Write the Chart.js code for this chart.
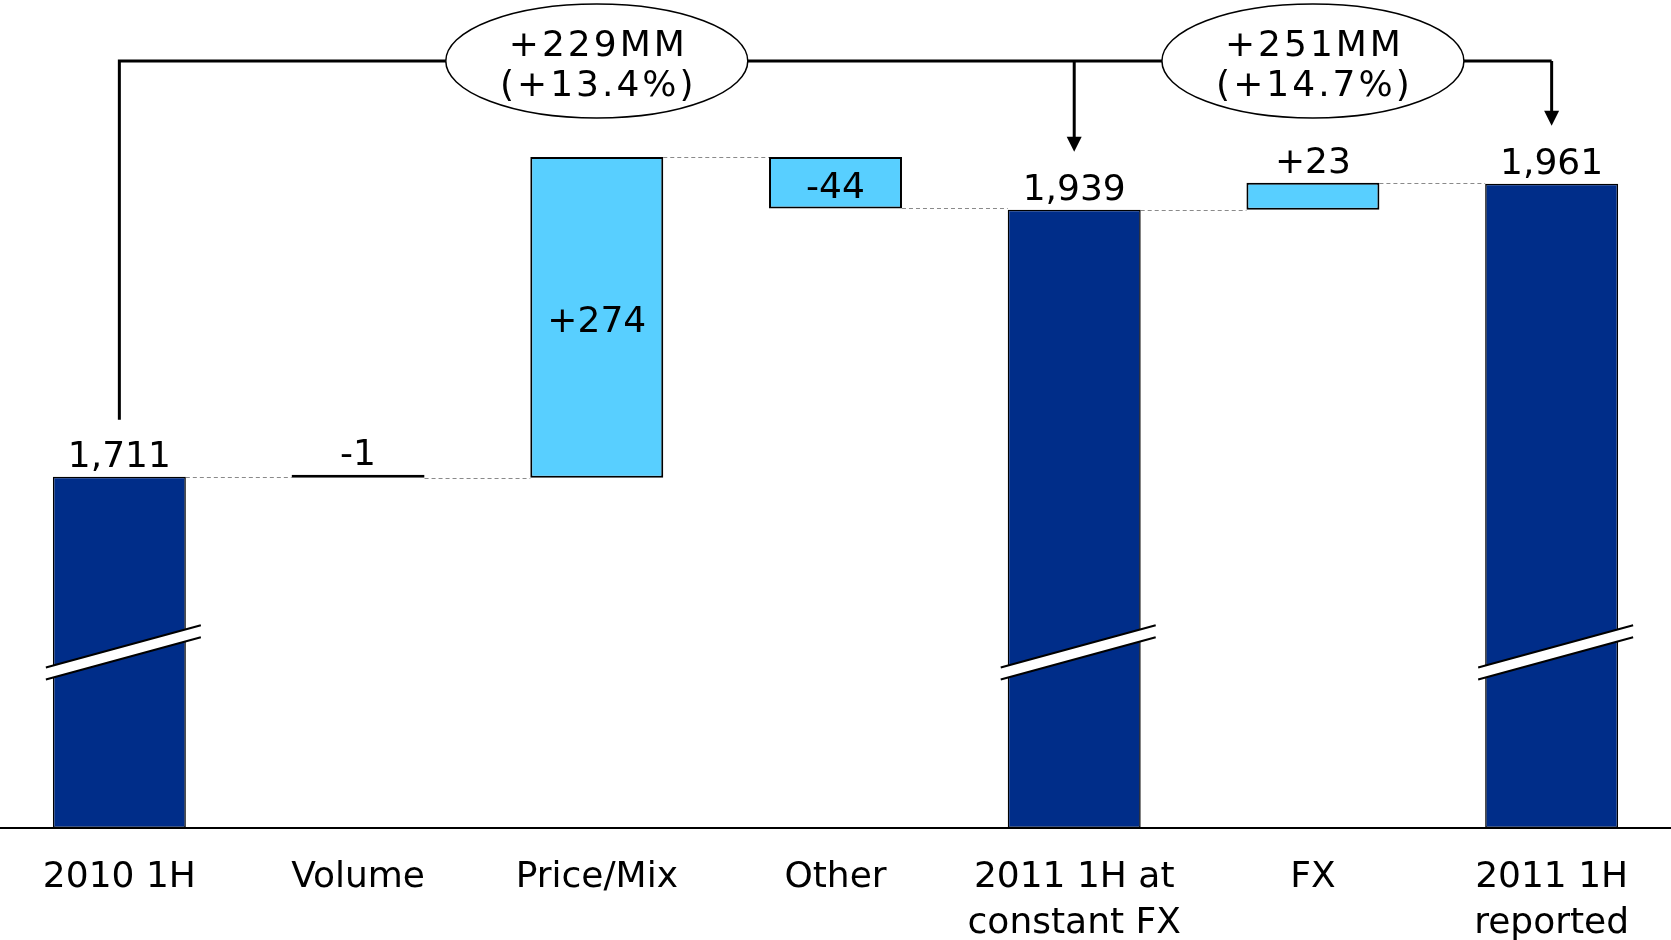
<!DOCTYPE html>
<html>
<head>
<meta charset="utf-8">
<title>Net sales bridge 2010 1H to 2011 1H</title>
<script src="https://cdn.jsdelivr.net/npm/chart.js@4.4.1/dist/chart.umd.min.js"></script>
<style>
  html, body { margin: 0; padding: 0; background: #ffffff; }
  #wrap { width: 1671px; height: 940px; position: relative; }
</style>
</head>
<body>
<div id="wrap"><canvas id="chart"></canvas></div>
<script>
// ---- data ----
const categories = [
  ['2010 1H'], ['Volume'], ['Price/Mix'], ['Other'],
  ['2011 1H at', 'constant FX'], ['FX'], ['2011 1H', 'reported']
];
// totals are absolute levels, the others are changes to the running level
const values = [1711, -1, 274, -44, 1939, 23, 1961];
const isTotal = [true, false, false, false, true, false, true];
const valueLabels = ['1,711', '-1', '+274', '-44', '1,939', '+23', '1,961'];

// growth callouts: bracket starts at `from`, arrows point to each `to`, bubble sits over `over`
const growthFrom = 0;
const growthTo = [4, 6];
const growthOver = [2, 5];
const growthText = [['+229MM', '(+13.4%)'], ['+251MM', '(+14.7%)']];

// visible value window (the total bars are drawn with an axis break)
const axisMin = 1411;
const axisMax = 2118;
const breakValue = 1560;

// ---- floating ranges for the waterfall ----
let running = 0;
const ranges = values.map((v, i) => {
  if (isTotal[i]) { running = v; return [axisMin, v]; }
  const start = running;
  running += v;
  return [Math.min(start, running), Math.max(start, running)];
});
const endLevels = [];
(function () {
  let lvl = 0;
  values.forEach((v, i) => { lvl = isTotal[i] ? v : lvl + v; endLevels[i] = lvl; });
})();

const FONT = '"DejaVu Sans", Verdana, sans-serif';
const DARK = '#002D89';
const LIGHT = '#58CFFF';

const decorPlugin = {
  id: 'waterfallDecor',
  beforeDatasetsDraw(chart) {
    // dashed connectors between neighbouring bars
    const ctx = chart.ctx;
    const meta = chart.getDatasetMeta(0);
    const y = chart.scales.y;
    ctx.save();
    ctx.strokeStyle = '#8a8a8a';
    ctx.lineWidth = 1;
    ctx.setLineDash([4, 3]);
    for (let i = 0; i < meta.data.length - 1; i++) {
      const a = meta.data[i], b = meta.data[i + 1];
      const py = Math.round(y.getPixelForValue(endLevels[i])) + 0.5;
      ctx.beginPath();
      ctx.moveTo(a.x + a.width / 2, py);
      ctx.lineTo(b.x - b.width / 2, py);
      ctx.stroke();
    }
    ctx.restore();
  },
  afterDatasetsDraw(chart) {
    const ctx = chart.ctx;
    const meta = chart.getDatasetMeta(0);
    const y = chart.scales.y;
    const area = chart.chartArea;

    // axis-break marks across the total bars
    const slope = 0.273;
    const halfGap = 6;
    meta.data.forEach((el, i) => {
      if (!isTotal[i]) return;
      const cy = y.getPixelForValue(breakValue);
      const xl = el.x - el.width / 2 - 7;
      const xr = el.x + el.width / 2 + 15;
      const yl = cy + (el.x - xl) * slope;
      const yr = cy - (xr - el.x) * slope;
      ctx.save();
      ctx.fillStyle = '#ffffff';
      ctx.beginPath();
      ctx.moveTo(xl, yl - halfGap);
      ctx.lineTo(xr, yr - halfGap);
      ctx.lineTo(xr, yr + halfGap);
      ctx.lineTo(xl, yl + halfGap);
      ctx.closePath();
      ctx.fill();
      ctx.strokeStyle = '#000000';
      ctx.lineWidth = 2;
      ctx.beginPath();
      ctx.moveTo(xl, yl - halfGap); ctx.lineTo(xr, yr - halfGap);
      ctx.moveTo(xl, yl + halfGap); ctx.lineTo(xr, yr + halfGap);
      ctx.stroke();
      ctx.restore();
    });

    // value labels
    ctx.save();
    ctx.font = '36px ' + FONT;
    ctx.fillStyle = '#000000';
    ctx.textAlign = 'center';
    ctx.textBaseline = 'alphabetic';
    meta.data.forEach((el, i) => {
      const top = Math.min(el.y, el.base);
      const bottom = Math.max(el.y, el.base);
      if (!isTotal[i] && bottom - top > 45) {
        ctx.fillText(valueLabels[i], el.x, (top + bottom) / 2 + 15);
      } else {
        ctx.fillText(valueLabels[i], el.x, top - 10);
      }
    });
    ctx.restore();

    // growth bracket with arrows
    const lineY = area.top + 61;
    const xFrom = meta.data[growthFrom];
    const lastTo = meta.data[growthTo[growthTo.length - 1]];
    ctx.save();
    ctx.strokeStyle = '#000000';
    ctx.fillStyle = '#000000';
    ctx.lineWidth = 3;
    ctx.beginPath();
    ctx.moveTo(xFrom.x, Math.min(xFrom.y, xFrom.base) - 57);
    ctx.lineTo(xFrom.x, lineY);
    ctx.lineTo(lastTo.x, lineY);
    ctx.stroke();
    growthTo.forEach((idx) => {
      const el = meta.data[idx];
      const tip = Math.min(el.y, el.base) - 58;
      ctx.beginPath();
      ctx.moveTo(el.x, lineY);
      ctx.lineTo(el.x, tip - 14);
      ctx.stroke();
      ctx.beginPath();
      ctx.moveTo(el.x - 7.5, tip - 15);
      ctx.lineTo(el.x + 7.5, tip - 15);
      ctx.lineTo(el.x, tip);
      ctx.closePath();
      ctx.fill();
    });
    ctx.restore();

    // growth bubbles
    growthOver.forEach((idx, k) => {
      const cx = meta.data[idx].x;
      ctx.save();
      ctx.beginPath();
      ctx.ellipse(cx, lineY, 151, 57, 0, 0, Math.PI * 2);
      ctx.fillStyle = '#ffffff';
      ctx.fill();
      ctx.lineWidth = 1.5;
      ctx.strokeStyle = '#000000';
      ctx.stroke();
      ctx.font = '36px ' + FONT;
      ctx.letterSpacing = '3px';
      ctx.fillStyle = '#000000';
      ctx.textAlign = 'center';
      ctx.textBaseline = 'alphabetic';
      ctx.fillText(growthText[k][0], cx + 1.5, lineY - 5);
      ctx.fillText(growthText[k][1], cx + 1.5, lineY + 35);
      ctx.restore();
    });
  }
};

new Chart(document.getElementById('chart'), {
  type: 'bar',
  data: {
    labels: categories,
    datasets: [{
      data: ranges,
      backgroundColor: (c) => {
        const i = c.dataIndex;
        if (isTotal[i]) return DARK;
        const r = c.raw;
        return (r && Math.abs(r[1] - r[0]) < 3) ? '#000000' : LIGHT;
      },
      borderColor: '#000000',
      borderWidth: (c) => isTotal[c.dataIndex] ? 1.5 : 2,
      borderSkipped: false,
      minBarLength: 3,
      barPercentage: 0.557,
      categoryPercentage: 1
    }]
  },
  options: {
    responsive: true,
    maintainAspectRatio: false,
    animation: false,
    devicePixelRatio: 1,
    layout: { padding: 0 },
    plugins: {
      legend: { display: false },
      tooltip: { enabled: false },
      title: { display: false }
    },
    scales: {
      x: {
        grid: { display: false, drawTicks: false },
        border: { display: true, color: '#000000', width: 2 },
        ticks: {
          color: '#000000',
          padding: 27,
          maxRotation: 0,
          autoSkip: false,
          font: { family: FONT, size: 36, lineHeight: 1.28 }
        },
        afterFit(scale) { scale.height = 112; }
      },
      y: {
        display: false,
        min: axisMin,
        max: axisMax
      }
    }
  },
  plugins: [decorPlugin]
});
</script>
</body>
</html>
